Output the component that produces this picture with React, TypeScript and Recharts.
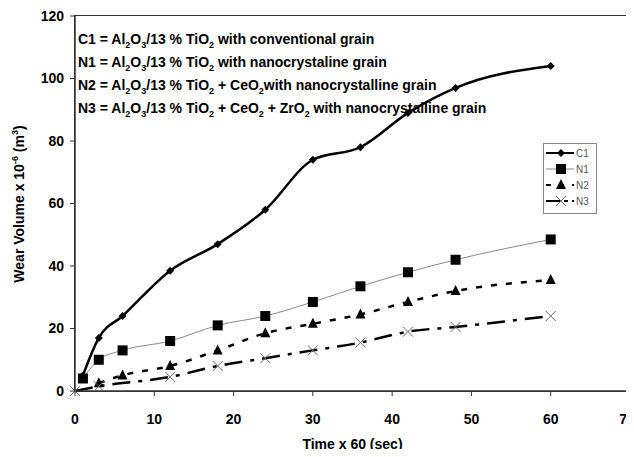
import React from "react";
import { LineChart, Line, XAxis, YAxis } from "recharts";

const times = [0, 1, 3, 6, 12, 18, 24, 30, 36, 42, 48, 60];
const c1 = [null, 5, 17, 24, 38.5, 47, 58, 74, 78, 89, 97, 104];
const n1 = [null, 4, 10, 13, 16, 21, 24, 28.5, 33.5, 38, 42, 48.5];
const n2 = [null, null, 2.5, 5, 8, 13, 18.5, 21.5, 24.5, 28.5, 32, 35.5];
const n3 = [0, null, 1.5, null, 4.5, 8, 10.5, 13, 15.5, 19, 20.5, 24];
const xTicks = [0, 10, 20, 30, 40, 50, 60, 70];
const yTicks = [0, 20, 40, 60, 80, 100, 120];

const data = times.map((t, i) => ({ t, C1: c1[i], N1: n1[i], N2: n2[i], N3: n3[i] }));

const FONT = "Liberation Sans, Arial, sans-serif";

const Diamond = ({ cx, cy }: any) =>
  cx == null || cy == null ? null : (
    <path d={`M${cx},${cy - 4}L${cx + 4},${cy}L${cx},${cy + 4}L${cx - 4},${cy}Z`} fill="#000" />
  );
const Square = ({ cx, cy }: any) =>
  cx == null || cy == null ? null : (
    <rect x={cx - 5} y={cy - 5} width={10} height={10} fill="#000" />
  );
const Triangle = ({ cx, cy }: any) =>
  cx == null || cy == null ? null : (
    <path d={`M${cx},${cy - 6}L${cx + 5},${cy + 4}L${cx - 5},${cy + 4}Z`} fill="#000" />
  );
const Cross = ({ cx, cy }: any) =>
  cx == null || cy == null ? null : (
    <path
      d={`M${cx - 5},${cy - 5}L${cx + 5},${cy + 5}M${cx + 5},${cy - 5}L${cx - 5},${cy + 5}`}
      stroke="#666"
      strokeWidth={1}
    />
  );

const legendRows = [
  { name: "C1", stroke: "#000", width: 2, dash: undefined, Mark: Diamond },
  { name: "N1", stroke: "#888", width: 1, dash: undefined, Mark: Square },
  { name: "N2", stroke: "#000", width: 2, dash: "5 8", Mark: Triangle },
  { name: "N3", stroke: "#000", width: 2, dash: "14 4 4 4", Mark: Cross },
];

const LegendBox = () => (
  <div
    style={{
      position: "absolute",
      left: 543,
      top: 143,
      width: 52,
      height: 68,
      border: "1.5px solid #888",
      background: "#fff",
      fontFamily: "Liberation Sans Narrow, Arial Narrow, sans-serif",
      fontSize: 10,
      color: "#555",
      paddingTop: 1,
    }}
  >
    {legendRows.map((r) => (
      <div key={r.name} style={{ display: "flex", alignItems: "center", height: 16 }}>
        <svg width={32} height={16}>
          <line x1={2} y1={8} x2={30} y2={8} stroke={r.stroke} strokeWidth={r.width} strokeDasharray={r.dash} />
          <r.Mark cx={17} cy={8} />
        </svg>
        <span>{r.name}</span>
      </div>
    ))}
  </div>
);

const notes = [
  ["C1 = Al", "2", "O", "3", "/13 % TiO", "2", " with conventional grain"],
  ["N1 = Al", "2", "O", "3", "/13 % TiO", "2", " with nanocrystaline grain"],
  ["N2 = Al", "2", "O", "3", "/13 % TiO", "2", " + CeO", "2", "with nanocrystalline grain"],
  ["N3 = Al", "2", "O", "3", "/13 % TiO", "2", " + CeO", "2", " + ZrO", "2", " with nanocrystalline grain"],
];

const YLabel = () => (
  <text
    transform="translate(24,204) rotate(-90)"
    textAnchor="middle"
    fontFamily={FONT}
    fontWeight="bold"
    fontSize={14}
    fill="#000"
  >
    Wear Volume x 10
    <tspan fontSize={9} dy={-6}>-6</tspan>
    <tspan dy={6}> (m</tspan>
    <tspan fontSize={9} dy={-6}>3</tspan>
    <tspan dy={6}>)</tspan>
  </text>
);

export default function App() {
  return (
    <div style={{ margin: -8, position: "relative", width: 634, height: 457, background: "#fff" }}>
      <LineChart width={634} height={457} data={data} margin={{ top: 16, right: 4, left: 0, bottom: 0 }}>
        <XAxis
          dataKey="t"
          type="number"
          domain={[0, 70]}
          ticks={xTicks}
          height={66}
          axisLine={{ stroke: "#333", strokeWidth: 1.5 }}
          tickLine={{ stroke: "#333" }}
          tickSize={5}
          tick={{ fill: "#000", fontFamily: FONT, fontWeight: "bold", fontSize: 14, dy: 16 }}
          label={{
            value: "Time x 60 (sec)",
            position: "insideBottom",
            offset: 8,
            fill: "#000",
            fontFamily: FONT,
            fontWeight: "bold",
            fontSize: 14,
          }}
        />
        <YAxis
          type="number"
          domain={[0, 120]}
          ticks={yTicks}
          width={75}
          axisLine={{ stroke: "#333", strokeWidth: 1.5 }}
          tickLine={{ stroke: "#333" }}
          tickSize={5}
          tick={{ fill: "#000", fontFamily: FONT, fontWeight: "bold", fontSize: 14, dx: -4 }}
          label={<YLabel />}
        />
        <Line
          dataKey="C1"
          type="monotone"
          stroke="#000"
          strokeWidth={2.5}
          dot={<Diamond />}
          connectNulls
          isAnimationActive={false}
        />
        <Line
          dataKey="N1"
          type="monotone"
          stroke="#888"
          strokeWidth={1}
          dot={<Square />}
          connectNulls
          isAnimationActive={false}
        />
        <Line
          dataKey="N2"
          type="monotone"
          stroke="#000"
          strokeWidth={2.5}
          strokeDasharray="6 9"
          dot={<Triangle />}
          connectNulls
          isAnimationActive={false}
        />
        <Line
          dataKey="N3"
          type="monotone"
          stroke="#000"
          strokeWidth={2.5}
          strokeDasharray="18 8 4 8"
          dot={<Cross />}
          connectNulls
          isAnimationActive={false}
        />
      </LineChart>
      <div
        style={{
          position: "absolute",
          left: 74,
          top: 15,
          width: 555,
          height: 375,
          border: "1.5px solid #333",
          pointerEvents: "none",
        }}
      />
      <LegendBox />
      <div
        style={{
          position: "absolute",
          left: 78,
          top: 28,
          fontFamily: FONT,
          fontWeight: "bold",
          fontSize: 14,
          lineHeight: "23px",
          color: "#000",
          pointerEvents: "none",
        }}
      >
        {notes.map((parts, i) => (
          <div key={i} style={{ whiteSpace: "nowrap" }}>
            {parts.map((p, j) =>
              j % 2 === 1 ? (
                <sub key={j} style={{ fontSize: 9, lineHeight: 0 }}>{p}</sub>
              ) : (
                <span key={j}>{p}</span>
              )
            )}
          </div>
        ))}
      </div>
    </div>
  );
}
